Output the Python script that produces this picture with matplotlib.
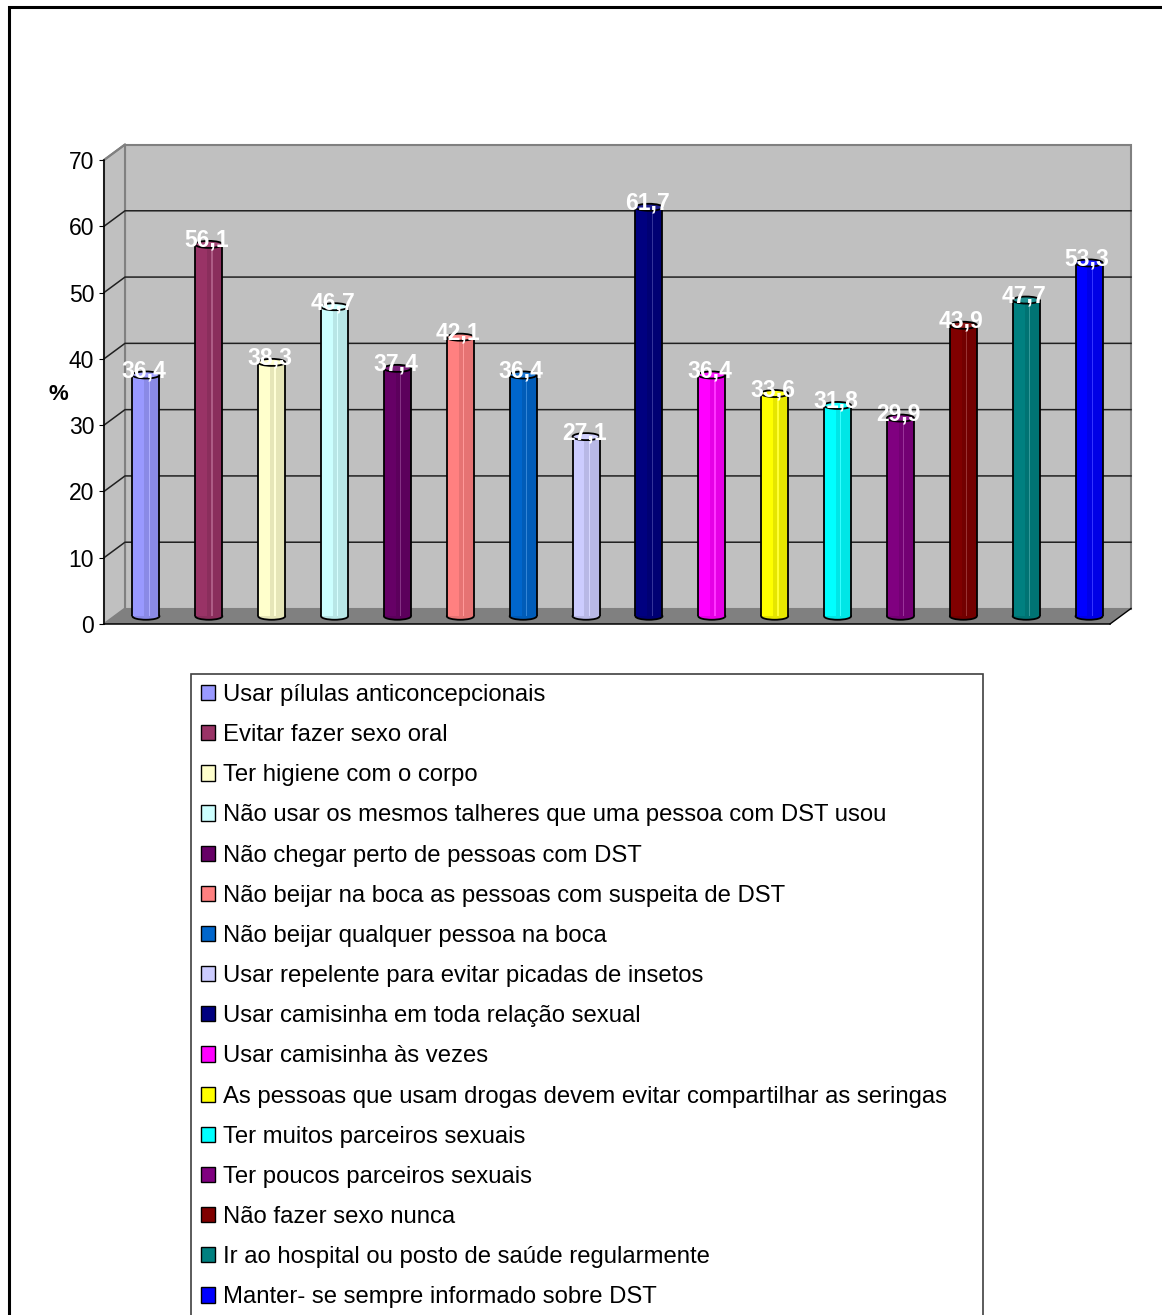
import matplotlib
matplotlib.use("Agg")
import matplotlib.pyplot as plt
from matplotlib.patches import Rectangle, Polygon, Ellipse
from matplotlib.colors import to_rgb
import numpy as np

plt.rcParams['font.family'] = ['Liberation Sans', 'DejaVu Sans']

categories = [
    "Usar pílulas anticoncepcionais",
    "Evitar fazer sexo oral",
    "Ter higiene com o corpo",
    "Não usar os mesmos talheres que uma pessoa com DST usou",
    "Não chegar perto de pessoas com DST",
    "Não beijar na boca as pessoas com suspeita de DST",
    "Não beijar qualquer pessoa na boca",
    "Usar repelente para evitar picadas de insetos",
    "Usar camisinha em toda relação sexual",
    "Usar camisinha às vezes",
    "As pessoas que usam drogas devem evitar compartilhar as seringas",
    "Ter muitos parceiros sexuais",
    "Ter poucos parceiros sexuais",
    "Não fazer sexo nunca",
    "Ir ao hospital ou posto de saúde regularmente",
    "Manter- se sempre informado sobre DST",
]
values = [36.4, 56.1, 38.3, 46.7, 37.4, 42.1, 36.4, 27.1,
          61.7, 36.4, 33.6, 31.8, 29.9, 43.9, 47.7, 53.3]
colors = ["#9999FF", "#993366", "#FFFFCC", "#CCFFFF", "#660066", "#FF8080",
          "#0066CC", "#CCCCFF", "#000080", "#FF00FF", "#FFFF00", "#00FFFF",
          "#800080", "#800000", "#008080", "#0000FF"]
y_ticks = [0, 10, 20, 30, 40, 50, 60, 70]

W, H, DPI = 1162, 1315, 100
fig = plt.figure(figsize=(W / DPI, H / DPI), dpi=DPI)

# front plane of the 3-D plot area (pixels)
x0, x1, yb, yt = 104, 1110, 624, 160
ax = fig.add_axes([x0 / W, 1 - yb / H, (x1 - x0) / W, (yb - yt) / H])
ax.set_xlim(-0.5, len(values) - 0.5)
ax.set_ylim(0, 70)
ax.patch.set_visible(False)

px_x = (x1 - x0) / len(values)     # pixels per category
px_y = (yb - yt) / 70.0            # pixels per unit
DX = 21 / px_x                     # depth offset in data units
DY = 15.5 / px_y

xl, xr = -0.5, len(values) - 0.5
wall = "#C0C0C0"
edge = "#808080"

# back wall
ax.add_patch(Rectangle((xl + DX, DY), xr - xl, 70, facecolor=wall,
                       edgecolor=edge, lw=1.5, zorder=0.5, clip_on=False))
# left side wall
ax.add_patch(Polygon([(xl, 0), (xl, 70), (xl + DX, 70 + DY), (xl + DX, DY)],
                     closed=True, facecolor=wall, edgecolor=edge, lw=1.5,
                     zorder=0.5, clip_on=False))
# floor
ax.add_patch(Polygon([(xl, 0), (xr, 0), (xr + DX, DY), (xl + DX, DY)],
                     closed=True, facecolor="#808080", edgecolor="none",
                     zorder=0.6, clip_on=False))
ax.plot([xr, xr + DX], [0, DY], color="black", lw=1, zorder=0.7, clip_on=False)

# gridlines on back and side walls
for t in y_ticks[1:-1]:
    ax.plot([xl, xl + DX, xr + DX], [t, t + DY, t + DY], color="#202020",
            lw=1.1, zorder=0.8, clip_on=False)
ax.plot([xl, xl + DX], [70, 70 + DY], color=edge, lw=1.5, zorder=0.8, clip_on=False)

# cylinders sit at mid depth of the floor
mx, my = DX / 2, DY / 2
bw = 27 / px_x
eh = 7 / px_y
xs = np.arange(len(values)) + mx


def shade(c, f):
    r, g, b = to_rgb(c)
    return (r * f, g * f, b * f)


def tint(c, f):
    r, g, b = to_rgb(c)
    return (r + (1 - r) * f, g + (1 - g) * f, b + (1 - b) * f)


for i, (x, v, c) in enumerate(zip(xs, values, colors)):
    # curved base
    ax.add_patch(Ellipse((x, my), bw, eh, facecolor=shade(c, 0.9),
                         edgecolor="black", lw=1.3, zorder=3, clip_on=False))
    # body with soft shading
    ax.bar(x, v, width=bw, bottom=my, color=c, edgecolor="none", zorder=4)
    ax.bar(x + bw * 0.22, v, width=bw * 0.56, bottom=my, color=shade(c, 0.9),
           edgecolor="none", zorder=4.1)
    ax.bar(x + bw * 0.12, v, width=bw * 0.05, bottom=my, color=tint(c, 0.2),
           edgecolor="none", zorder=4.2)
    ax.vlines([x - bw / 2, x + bw / 2], my, my + v, color="black", lw=1.3, zorder=5)
    # top cap
    ax.add_patch(Ellipse((x, my + v), bw, eh, facecolor=tint(c, 0.12),
                         edgecolor="black", lw=1.3, zorder=6))
    ax.text(x - 0.03, my + v + 0.6, f"{v:.1f}".replace(".", ","),
            ha="center", va="center", color="white", fontsize=16.5,
            fontweight="bold", zorder=7)

# axes styling
for s in ("top", "right"):
    ax.spines[s].set_visible(False)
for s in ("left", "bottom"):
    ax.spines[s].set_color("black")
    ax.spines[s].set_linewidth(1.1)
    ax.spines[s].set_zorder(8)
ax.set_xticks([])
ax.set_yticks(y_ticks)
ax.tick_params(axis="y", length=3.6, width=0.8, pad=3.5, labelsize=16.5, colors="black")
fig.text(58 / W, 1 - 395 / H, "%", ha="center", va="center",
         fontsize=16, fontweight="bold")

# legend
handles = [Rectangle((0, 0), 1, 1, facecolor=c, edgecolor="black", lw=1.0)
           for c in colors]
leg = fig.legend(handles, categories, loc="upper left",
                 bbox_to_anchor=(191 / W, 1 - 674 / H), borderaxespad=0,
                 fontsize=17.2, frameon=False,
                 handlelength=0.6, handleheight=0.6, handletextpad=0.3,
                 labelspacing=0.76, borderpad=0.42)
# legend box, running past the lower edge of the figure
fig.add_artist(Rectangle((191 / W, -0.05), (983 - 191) / W, 1 - 674 / H + 0.05,
                         transform=fig.transFigure, facecolor="none",
                         edgecolor="#404040", lw=1.2, zorder=0))

# outer chart border (top and left edges)
fig.add_artist(Rectangle((9 / W, -0.1), 1.2, 1 - 7 / H + 0.1,
                         transform=fig.transFigure, facecolor="none",
                         edgecolor="black", lw=2.2, zorder=0))

fig.savefig("out.png", dpi=DPI, facecolor="white")
